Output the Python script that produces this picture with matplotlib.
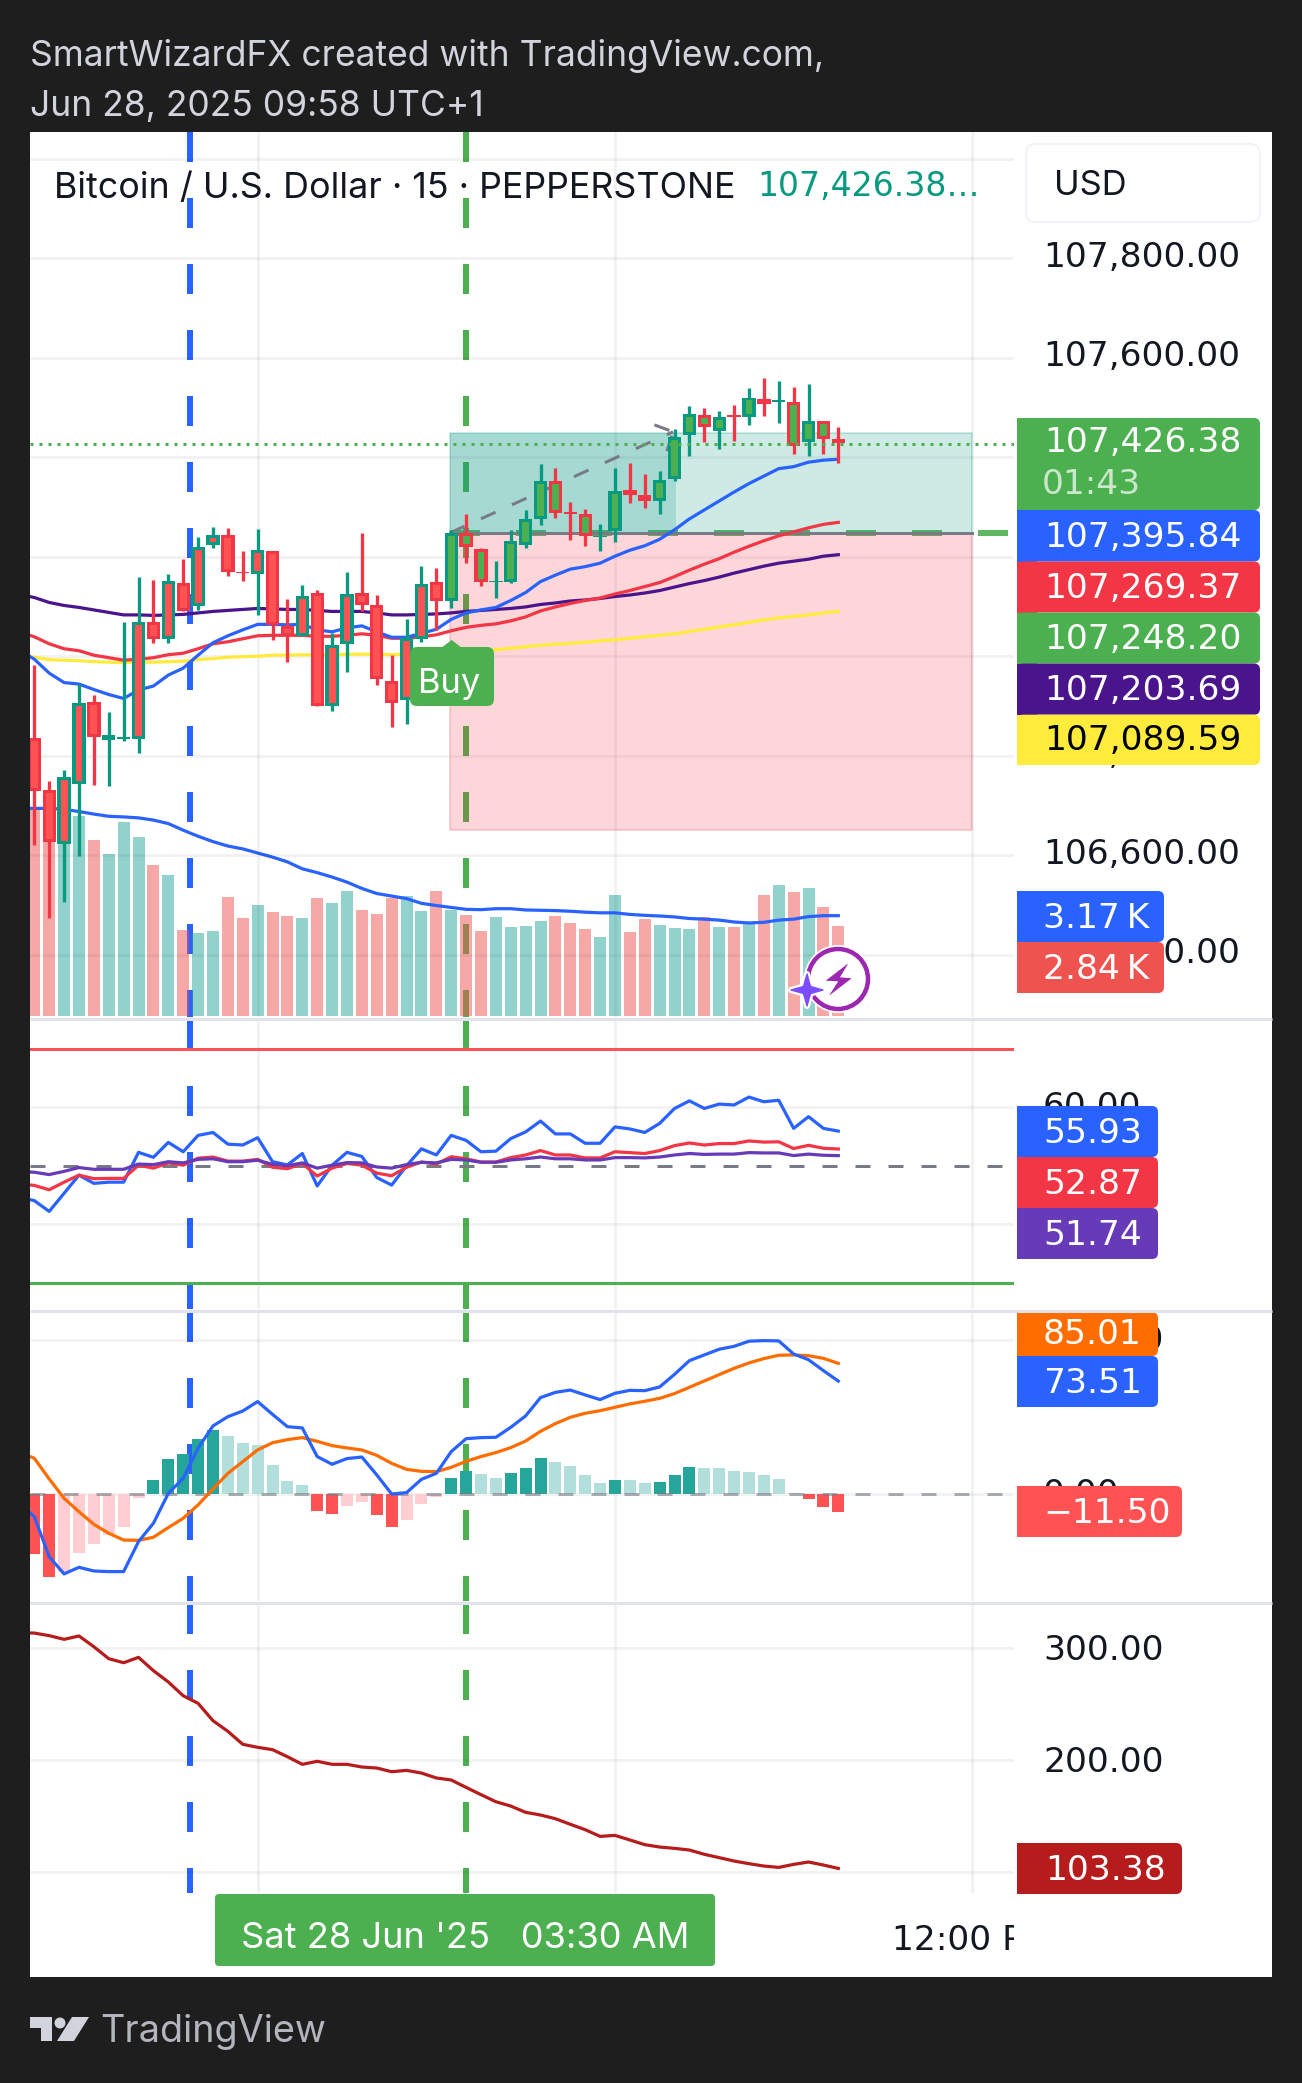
import numpy as np
import matplotlib
matplotlib.use("Agg")
import matplotlib.pyplot as plt
from matplotlib.patches import Rectangle, FancyBboxPatch, Circle, Polygon
from matplotlib.transforms import ScaledTranslation

plt.rcParams['font.family'] = ['Inter', 'DejaVu Sans']
plt.rcParams['lines.scale_dashes'] = False

# ---------- candles (i = 0..54) ----------
highs = [106982,106749,106771,106945,106922,106888,107068,107159,107153,107165,107195,107240,107259,107258,107211,
         107256,107212,107115,107143,107133,107046,107169,107248,107123,107002,107075,107181,107177,107254,107286,
         107217,107191,107254,107294,107386,107378,107310,107296,107266,107378,107388,107366,107372,107457,107503,
         107499,107493,107505,107539,107559,107553,107541,107547,107473,107461]
body_tops = [106836,106732,106757,106906,106908,106842,106838,107069,107069,107152,107148,107220,107244,107244,107170,
             107213,107212,107061,107120,107128,107023,107125,107128,107103,106951,107036,107145,107150,107248,107248,
             107216,107152,107232,107276,107353,107353,107289,107285,107242,107333,107335,107325,107354,107441,107486,
             107484,107481,107484,107520,107516,107514,107510,107473,107473,107436]
body_bots = [106730,106627,106623,106743,106838,106832,106833,106833,107034,107034,107091,107101,107224,107169,107168,
             107165,107063,107041,107041,106899,106900,107025,107102,106954,106905,106912,107034,107110,107110,107219,
             107150,107149,107150,107223,107275,107287,107286,107242,107240,107251,107325,107311,107311,107356,107444,
             107460,107452,107480,107480,107507,107511,107423,107431,107436,107429]
lows = [106621,106474,106506,106598,106741,106739,106830,106805,107026,107026,107091,107093,107218,107161,107152,
        107083,107033,106989,107041,106899,106889,106969,107090,106942,106858,106864,107029,107053,107097,107188,
        107141,107116,107147,107217,107264,107278,107234,107222,107211,107230,107308,107298,107286,107353,107402,
        107431,107417,107433,107465,107483,107469,107406,107402,107406,107388]
teal_flags = [0,0,1,1,0,1,1,1,0,1,0,1,1,0,0,
              1,0,0,1,0,1,1,0,0,0,1,1,0,1,0,
              0,1,1,1,1,0,0,0,1,1,0,0,1,1,1,
              0,1,0,1,0,1,0,1,0,0]
first_green_fill = 28

# ---------- moving averages (i = -1..54) ----------
ema_blue = [107012,106994,106966,106947,106944,106933,106923,106915,106932,106940,106962,106976,107002,107027,107041,
            107053,107064,107064,107063,107064,107053,107049,107057,107061,107049,107038,107038,107046,107054,107074,107087,
            107093,107098,107112,107128,107150,107163,107175,107180,107187,107201,107213,107222,107235,107254,107276,
            107294,107312,107330,107347,107362,107377,107381,107390,107394,107396]
ema_red = [107049,107039,107025,107015,107011,107002,106997,106992,106994,106997,107003,107006,107015,107025,107029,
           107035,107041,107042,107042,107042,107040,107040,107042,107045,107042,107036,107036,107039,107043,107051,107058,
           107062,107065,107071,107079,107091,107099,107106,107112,107117,107125,107132,107140,107148,107160,107173,
           107185,107196,107209,107221,107232,107242,107250,107258,107265,107269]
ema_purple = [107124,107118,107108,107102,107098,107093,107088,107083,107083,107082,107083,107084,107087,107090,107092,
              107094,107096,107095,107094,107094,107092,107090,107090,107090,107087,107083,107083,107084,107085,107087,107090,
              107092,107094,107096,107099,107104,107107,107111,107113,107116,107120,107123,107127,107132,107139,107146,
              107152,107159,107167,107174,107181,107187,107191,107195,107201,107204]
ema_yellow = [107002,106998,106993,106992,106991,106989,106988,106987,106988,106988,106989,106990,106993,106995,106998,
              106999,107000,107002,107002,107003,107002,107002,107004,107004,107004,107003,107004,107004,107006,107007,107008,
              107010,107013,107016,107019,107022,107024,107026,107028,107031,107033,107036,107039,107042,107045,107050,
              107054,107059,107063,107068,107073,107077,107080,107083,107087,107090]
last_price = 107426.38
entry_price = 107248.20
target_price = 107449
stop_price = 106651

# ---------- volume, thousands ----------
volume = [6.50,6.40,6.20,6.32,5.56,5.12,6.13,5.65,4.77,4.45,2.72,2.62,2.68,3.76,3.09,3.51,3.28,3.16,3.09,3.73,
          3.57,3.95,3.35,3.22,3.73,3.79,3.32,3.95,3.35,3.19,2.68,3.13,2.81,2.84,3.00,3.16,2.94,2.75,2.49,3.82,
          2.65,3.06,2.87,2.78,2.75,3.13,2.81,2.81,2.91,3.82,4.14,3.92,4.04,3.44,2.84]
volume_ma = [6.56,6.56,6.56,6.53,6.46,6.38,6.31,6.29,6.26,6.19,6.08,5.87,5.68,5.51,5.37,5.28,5.15,5.02,4.87,4.65,
             4.53,4.39,4.23,4.03,3.87,3.79,3.71,3.56,3.49,3.43,3.37,3.36,3.39,3.39,3.35,3.34,3.33,3.31,3.28,3.26,
             3.26,3.21,3.18,3.16,3.13,3.08,3.06,3.03,2.97,2.94,2.96,3.03,3.06,3.14,3.17,3.17]

# ---------- RSI (i = -1..54) ----------
rsi_blue = [44.6,44.05,42.2,45.3,48.4,47.0,47.2,47.2,52.3,51.45,54.0,52.4,55.2,55.7,53.7,53.55,54.8,50.7,50.15,52.1,
            46.55,50.1,52.3,51.6,48.0,46.7,50.0,52.9,51.85,55.2,54.35,52.4,52.5,54.65,55.8,57.65,55.45,55.45,53.85,53.85,
            56.65,56.3,55.7,57.25,59.8,61.1,59.8,60.55,60.4,61.75,60.95,61.2,56.4,58.4,56.4,55.93]
rsi_red = [46.9,46.65,45.9,47.2,48.4,47.8,47.85,47.85,50.1,49.6,50.5,50.1,51.3,51.5,50.8,50.8,51.1,49.75,49.5,50.4,
           48.25,49.6,50.4,50.1,48.75,48.3,49.75,50.65,50.3,51.55,51.2,50.65,50.65,51.4,51.85,52.6,51.85,51.85,51.35,51.35,
           52.4,52.25,52.1,52.6,53.45,53.9,53.55,53.8,53.8,54.25,54.05,54.1,52.95,53.5,53.0,52.87]
rsi_purple = [49.0,48.9,48.5,49.05,49.7,49.4,49.4,49.4,50.3,50.2,50.7,50.5,51.1,51.2,50.7,50.7,50.95,50.25,50.0,50.5,
              49.6,50.1,50.55,50.5,49.8,49.6,50.2,50.6,50.5,51.1,51.0,50.6,50.6,51.0,51.2,51.5,51.2,51.2,51.0,51.0,
              51.4,51.4,51.35,51.5,51.85,52.1,51.95,52.0,52.0,52.25,52.2,52.2,51.75,52.0,51.8,51.74]
rsi_levels = [70, 50, 30]

# ---------- MACD ----------
macd_line = [-5.8,-14.5,-40.5,-51.7,-47.4,-49.8,-50.2,-50.2,-30.7,-18.8,0.6,10.4,29.9,44.4,50.4,54.1,60.2,51.9,43.9,43.1,
             24.5,19.5,23.2,24.2,12.6,0.2,1.1,9.7,13.6,27.7,36.1,36.8,37.0,43.5,50.9,62.8,66.2,67.7,64.5,61.5,
             65.6,67.5,67.3,69.7,77.9,86.8,90.5,94.2,96.1,99.4,99.8,99.6,91.1,87.4,80.3,73.51]
macd_signal = [27.3,23.4,10.0,-2.6,-11.3,-19.5,-25.3,-29.7,-29.9,-27.9,-21.6,-15.6,-6.9,3.5,13.6,21.2,28.8,33.5,35.5,36.8,
               34.4,31.6,30.1,28.8,25.3,20.1,16.2,14.9,14.7,17.5,21.4,24.5,27.1,30.3,34.6,40.9,45.9,50.0,52.6,54.3,
               56.5,58.7,60.4,62.3,65.4,69.5,73.6,77.7,81.8,85.3,88.1,90.3,90.5,90.0,88.3,85.01]
macd_hist = [-38.7,-53.7,-50.2,-38.1,-32.3,-26.4,-21.2,-2.4,9.3,22.9,26.2,35.9,41.8,37.9,33.3,32.0,19.0,8.7,6.1,-10.8,
             -12.8,-7.6,-5.0,-13.4,-21.2,-16.7,-6.3,-1.7,10.6,15.2,13.2,10.6,13.9,17.1,23.6,21.0,18.4,12.6,7.4,9.3,
             9.3,7.4,8.0,12.6,17.7,17.1,17.1,15.2,14.5,12.6,10.0,0.9,-3.0,-8.2,-11.5]

# ---------- bottom study (i = -1..54) ----------
study = [314.0,313.7,311.4,308.1,311.1,301.5,290.8,287.2,292.0,280.1,270.0,257.7,250.9,235.4,225.9,214.3,211.6,209.5,203.2,196.4,
         199.1,196.4,196.4,194.0,193.1,189.8,191.0,188.6,184.2,182.4,175.8,169.3,163.0,159.1,153.5,151.1,147.8,142.8,138.0,132.0,
         132.9,128.8,124.6,122.5,121.3,119.8,116.0,113.0,110.0,107.6,105.5,104.3,107.0,109.1,106.4,103.38]

# ---------- axis texts ----------
price_ticks = [106400,106600,106800,107000,107200,107400,107600,107800,108000]
rsi_ticks = [40, 60]
macd_ticks = [0, 100]
study_ticks = [100, 200, 300]
time_grid = [15, 39, 63]
blue_marker_bar = 10.44
green_marker_bar = 29.0
box_left_bar, box_mid_bar, box_right_bar = 27.92, 43.1, 63.0
arrow_x = [27.92, 42.9]
arrow_y = [107248, 107451]
barb_x = [41.65, 42.9, 42.47]
barb_y = [107465, 107451, 107411]

# ---------- colours ----------
BG = '#1e1e1e'; TEAL = '#089981'; RED = '#F23645'; BFILL = '#FF5252'; GREEN = '#4CAF50'; BLUE = '#2962FF'
GRID = '#2a2e39'; GREY = '#787b86'; DARK = '#131722'; SEP = '#e0e3eb'

W, H = 1302, 2083
fig = plt.figure(figsize=(W/100, H/100), dpi=100, facecolor=BG)
PX = 0.72  # points per pixel
FS = 34.5 * PX
NUM = 'DejaVu Sans'
LW = 3.2 * PX

L, R = 30, 1014
BAR0, STEP = 34.3, 14.889
XLIM = ((L-BAR0)/STEP, (R-BAR0)/STEP)

def pane(top, bottom, zorder=2, right=R):
    return fig.add_axes([L/W, 1-bottom/H, (right-L)/W, (bottom-top)/H], zorder=zorder)

bg = fig.add_axes([0, 0, 1, 1], zorder=-5)
bg.set_xlim(0, W); bg.set_ylim(H, 0); bg.axis('off')
bg.add_patch(Rectangle((30, 131.5), 1242, 1845.5, fc='white', ec='none'))

def style(ax, ylim, ticks, lift=3):
    ax.set_xlim(*XLIM); ax.set_ylim(*ylim)
    ax.patch.set_visible(False)
    for s in ax.spines.values():
        s.set_visible(False)
    ax.set_xticks(time_grid); ax.set_xticklabels([])
    ax.set_yticks(ticks)
    ax.yaxis.tick_right()
    ax.tick_params(length=0, labelsize=FS, labelcolor=DARK, pad=29*PX, labelfontfamily=NUM)
    ax.grid(True, color=GRID, alpha=0.06, lw=3*PX)
    ax.set_axisbelow(True)
    ax.set_yticklabels([f"{v:,.2f}" for v in ticks])
    off = ScaledTranslation(0, lift/100, fig.dpi_scale_trans)
    for lab in ax.get_yticklabels():
        lab.set_transform(lab.get_transform() + off)

def markers(ax):
    for xv, col in ((blue_marker_bar, BLUE), (green_marker_bar, GREEN)):
        ax.plot([xv, xv], [1, 0], transform=ax.get_xaxis_transform(), color=col, lw=6*PX,
                dashes=(30*PX, 36*PX), dash_capstyle='butt', zorder=0.2)

I_BARS = np.arange(len(highs))
I_LINE = np.arange(-1, len(highs))

# ---------- pane 1 ----------
PT, PB = 131.5, 1017
k = 0.4975
price_lim = (107400 - (PB-457.2)/k, 107400 + (457.2-PT)/k)
vk = 31.65
vol_lim = (-(PB-1016)/vk, (1016-PT)/vk)

axv = pane(PT, PB, zorder=1)
axv.set_xlim(*XLIM); axv.set_ylim(*vol_lim); axv.axis('off')
markers(axv)
vcol = ['#26a69a' if f else '#ef5350' for f in teal_flags]
axv.bar(I_BARS, volume, width=0.806, color=vcol, alpha=0.5, lw=0, zorder=2)
axv.plot(I_LINE, volume_ma, color=BLUE, lw=LW, zorder=3)

ax = pane(PT, PB, zorder=2)
style(ax, price_lim, price_ticks, lift=4.5)
ax.get_yticklabels()[-1].set_visible(False)   # the 108,000 label sits behind the USD button
# trade box
ax.add_patch(Rectangle((box_left_bar, entry_price), box_right_bar-box_left_bar, target_price-entry_price,
                       fc=TEAL, alpha=0.2, ec=TEAL, lw=2*PX, zorder=1))
ax.add_patch(Rectangle((box_left_bar, stop_price), box_right_bar-box_left_bar, entry_price-stop_price,
                       fc=RED, alpha=0.2, ec=RED, lw=2*PX, zorder=1))
ax.add_patch(Rectangle((box_left_bar, entry_price), box_mid_bar-box_left_bar, target_price-entry_price,
                       fc=TEAL, alpha=0.2, ec='none', zorder=1.1))
ax.plot([box_left_bar, XLIM[1]], [entry_price, entry_price], color=GREEN, lw=6*PX, dashes=(30*PX, 36*PX),
        dash_capstyle='butt', zorder=0.8, alpha=0.9)
ax.plot([box_left_bar, box_right_bar], [entry_price, entry_price], color=GREY, lw=3*PX, zorder=1.2)
ax.plot(arrow_x, arrow_y, color=GREY, lw=3*PX, dashes=(16*PX, 18*PX), dash_capstyle='butt', zorder=1.3)
ax.plot(barb_x, barb_y, color=GREY, lw=3*PX, dashes=(16*PX, 8*PX), dash_capstyle='butt', zorder=1.3)
# averages
for series, col in ((ema_yellow, '#FFEB3B'), (ema_purple, '#4A148C'), (ema_red, RED), (ema_blue, BLUE)):
    ax.plot(I_LINE, series, color=col, lw=LW, zorder=3)
# candles
bw_outer = 13.3/STEP
border = 3/k
for i in I_BARS:
    edge = TEAL if teal_flags[i] else RED
    fill = GREEN if i >= first_green_fill else BFILL
    ax.plot([i, i], [lows[i], highs[i]], color=edge, lw=3.3*PX, solid_capstyle='butt', zorder=4)
    top, bot = body_tops[i], body_bots[i]
    ax.bar(i, top-bot, bottom=bot, width=bw_outer, color=edge, lw=0, zorder=4.1)
    if top-bot > 2*border:
        ax.bar(i, top-bot-2*border, bottom=bot+border, width=bw_outer-6.4/STEP, color=fill, lw=0, zorder=4.2)
ax.plot(XLIM, [last_price, last_price], color=GREEN, lw=3*PX, dashes=(3*PX, 6*PX), dash_capstyle='butt', zorder=5)

# ---------- pane 2 RSI ----------
axr = pane(1020, 1309)
style(axr, (60-(1309-1107.3)/5.85, 60+(1107.3-1020)/5.85), rsi_ticks)
markers(axr)
axr.plot(XLIM, [rsi_levels[0]]*2, color='#FF5252', lw=3*PX, zorder=2)
axr.plot(XLIM, [rsi_levels[2]]*2, color=GREEN, lw=3*PX, zorder=2)
axr.plot(XLIM, [rsi_levels[1]]*2, color=GREY, lw=3*PX, dashes=(15*PX, 18*PX), dash_capstyle='butt', zorder=2)
for series, col in ((rsi_blue, BLUE), (rsi_red, RED), (rsi_purple, '#673AB7')):
    axr.plot(I_LINE, series, color=col, lw=LW, zorder=3)

# ---------- pane 3 MACD ----------
axm = pane(1312, 1601)
style(axm, ((1494.3-1601)/1.54, (1494.3-1312)/1.54), macd_ticks)
markers(axm)
hcol, prev = [], 0
for v in macd_hist:
    if v >= 0:
        hcol.append('#26a69a' if v > prev else '#b2dfdb')
    else:
        hcol.append('#ff5252' if v < prev else '#ffcdd2')
    prev = v
axm.bar(I_BARS, macd_hist, width=0.806, color=hcol, lw=0, zorder=2)
axm.plot(XLIM, [0, 0], color=GREY, lw=3*PX, alpha=0.6, dashes=(15*PX, 18*PX), dash_capstyle='butt', zorder=2.5)
axm.plot(I_LINE, macd_signal, color='#FF6D00', lw=LW, zorder=3)
axm.plot(I_LINE, macd_line, color=BLUE, lw=LW, zorder=3.1)

# ---------- pane 4 ----------
axs = pane(1604, 1893)
style(axs, (300-(1893-1648.4)/1.119, 300+(1648.4-1604)/1.119), study_ticks, lift=1)
markers(axs)
axs.plot(I_LINE, study, color='#B71C1C', lw=LW, zorder=3)

# ---------- time axis ----------
axt = pane(1893, 1977)
axt.set_xlim(*XLIM); axt.set_ylim(0, 1); axt.axis('off')
axt.text(63, 0.44, '12:00 PM', ha='center', va='center', fontsize=FS, color=DARK, clip_on=True, family=NUM)

# ---------- overlay: labels and header ----------
ov = fig.add_axes([0, 0, 1, 1], zorder=10)
ov.set_xlim(0, W); ov.set_ylim(H, 0); ov.axis('off')

# white backing so no tick text shows through the seams between stacked labels
for x1, y0, y1 in ((1260, 420, 763), (1164, 893, 991), (1158, 1108, 1257), (1158, 1314, 1405)):
    ov.add_patch(Rectangle((1019, y0), x1-1021, y1-y0, fc='white', ec='none'))

def label(x0, x1, y0, y1, col, txt, tcol='white', tx=1044, dy=2):
    r = 6
    ov.add_patch(FancyBboxPatch((x0+r, y0+r), x1-x0-2*r, y1-y0-2*r, boxstyle=f"round,pad={r},rounding_size={r}",
                                fc=col, ec='none', mutation_aspect=1))
    ov.add_patch(Rectangle((x0, y0), 20, y1-y0, fc=col, ec='none'))
    ov.text(tx, (y0+y1)/2+dy, txt, color=tcol, fontsize=FS, va='center', ha='left', family=NUM)

label(1017, 1260, 510, 561.5, BLUE, '107,395.84')
label(1017, 1260, 561.5, 612.5, RED, '107,269.37')
label(1017, 1260, 612.5, 663.6, GREEN, '107,248.20', dy=1)
label(1017, 1260, 663.6, 714.7, '#4A148C', '107,203.69', dy=1)
label(1017, 1260, 714.7, 765, '#FFEB3B', '107,089.59', tcol='black', dy=1)
label(1017, 1260, 418, 510, GREEN, '')
ov.text(1044, 442, '107,426.38', color='white', fontsize=FS, va='center', family=NUM)
ov.text(1042, 485, '01:43', color='white', alpha=0.7, fontsize=FS, va='center', family=NUM)
label(1017, 1164, 891, 942, BLUE, '3.17\u2009K', tx=1043)
label(1017, 1164, 942, 993, '#EF5350', '2.84\u2009K', tx=1043)
label(1017, 1158, 1106, 1157, BLUE, '55.93', tx=1043)
label(1017, 1158, 1157, 1208, RED, '52.87', tx=1043)
label(1017, 1158, 1208, 1259, '#673AB7', '51.74', tx=1043)
label(1017, 1158, 1312, 1356, '#FF6D00', '85.01', tx=1043, dy=0)
label(1017, 1158, 1356, 1407, BLUE, '73.51', tx=1043)
label(1017, 1182, 1486, 1537, '#FF5252', '\u221211.50', tx=1043)
label(1017, 1182, 1843, 1894, '#B71C1C', '103.38', tx=1045)

# USD box
ov.add_patch(FancyBboxPatch((1034, 152), 218, 62, boxstyle="round,pad=8,rounding_size=10", fc='white', ec='#f0f3fa', lw=1.5))
ov.text(1054, 186, 'USD', color=DARK, fontsize=FS, va='center')

# separators
for y, lw in ((1018.5, 3), (1310.5, 3), (1602.5, 3)):
    ov.plot([30, 1272], [y, y], color=SEP, lw=lw*PX, solid_capstyle='butt')

# legend row
ov.text(54, 189, 'Bitcoin / U.S. Dollar \u00b7 15 \u00b7 PEPPERSTONE', color=DARK, fontsize=FS*1.04, va='center')
ov.text(757, 187, '107,426.38\u2026', color=TEAL, fontsize=FS*0.96, va='center', family=NUM)

# header & footer
ov.text(30, 56, 'SmartWizardFX created with TradingView.com,', color='#d1d4dc', fontsize=FS*1.026, va='center')
ov.text(30, 107, 'Jun 28, 2025 09:58 UTC+1', color='#d1d4dc', fontsize=FS*1.026, va='center')
ov.text(100, 2032, 'TradingView', color='#b2b5be', fontsize=FS*1.098, va='center')
ov.add_patch(Polygon([(30, 2017), (52, 2017), (52, 2041), (41, 2041), (41, 2028), (30, 2028)], fc='#d1d4dc', ec='none'))
ov.add_patch(Circle((60, 2023), 5.5, fc='#d1d4dc', ec='none'))
ov.add_patch(Polygon([(72, 2017), (89, 2017), (74, 2041), (57, 2041)], fc='#d1d4dc', ec='none'))

# date badge
ov.add_patch(FancyBboxPatch((219, 1898), 492, 64, boxstyle="round,pad=4,rounding_size=4", fc=GREEN, ec='none'))
ov.text(465, 1939, "Sat 28 Jun '25   03:30 AM", color='white', fontsize=FS*1.05, ha='center', va='center')

# Buy label
ov.add_patch(Polygon([(441, 648), (451.7, 640), (462, 648)], fc=GREEN, ec='none'))
ov.add_patch(FancyBboxPatch((416, 653), 72, 47, boxstyle="round,pad=6,rounding_size=7", fc=GREEN, ec='none'))
ov.text(418, 684, 'Buy', color='white', fontsize=FS, va='center')

# badge icons
ov.add_patch(Circle((838, 979), 34, fc='white', ec='none', zorder=5))
ov.add_patch(Circle((838, 979), 30, fc='white', ec='#9C27B0', lw=4.5*PX, zorder=5.1))
ov.add_patch(Polygon([(848.3, 963.3), (825.7, 980.7), (838.3, 981.3), (829, 995.7), (851.7, 978.3), (840, 977.3)],
                     fc='#9C27B0', ec='none', zorder=5.2))
ang = np.arange(8)*np.pi/4
rad = np.where(np.arange(8) % 2 == 0, 16, 5.0)
star = np.c_[807+rad*np.cos(ang), 990+rad*np.sin(ang)]
ov.add_patch(Polygon(star, fc='#7C4DFF', ec='white', lw=6*PX, joinstyle='round', zorder=5.3))
ov.add_patch(Polygon(star, fc='#7C4DFF', ec='#7C4DFF', lw=1, joinstyle='round', zorder=5.4))

fig.savefig('out.png', dpi=100, facecolor=BG)
